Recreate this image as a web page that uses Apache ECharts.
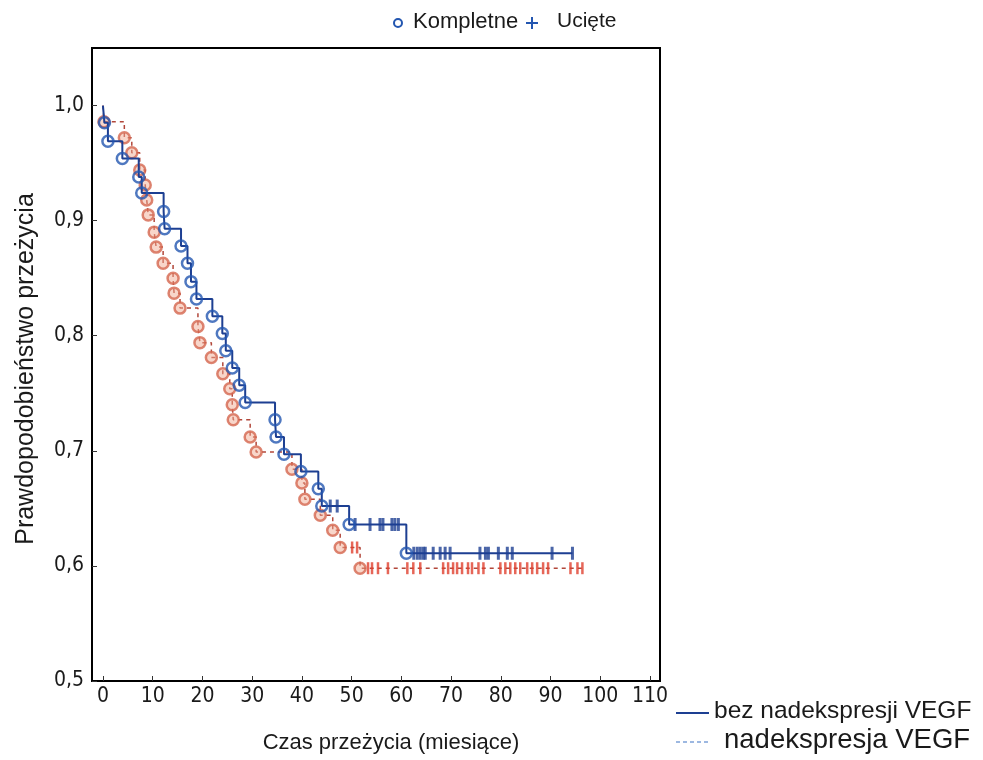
<!DOCTYPE html>
<html>
<head>
<meta charset="utf-8">
<script src="https://cdn.jsdelivr.net/npm/echarts@6/dist/echarts.min.js"></script>
<style>
  html, body { margin: 0; padding: 0; background: #ffffff; }
  #chart { width: 983px; height: 760px; }
</style>
</head>
<body>
<div id="chart"></div>
<script>
// ---- Data (time in months, survival probability) ----
const xTicks = [0, 10, 20, 30, 40, 50, 60, 70, 80, 90, 100, 110];
const yTicks = [0.5, 0.6, 0.7, 0.8, 0.9, 1.0];

// "bez nadekspresji VEGF" (solid, blue): complete events
const blueEventT = [0.3, 1.0, 3.9, 7.2, 7.8, 12.2, 12.4, 15.7, 17.0, 17.7, 18.8, 22.0, 24.0, 24.7, 26.0, 27.4, 28.6, 34.6, 34.8, 36.4, 39.8, 43.3, 44.0, 49.5, 61.0];
const blueEventS = [0.985, 0.969, 0.954, 0.938, 0.924, 0.908, 0.893, 0.878, 0.863, 0.847, 0.832, 0.817, 0.802, 0.787, 0.772, 0.757, 0.742, 0.727, 0.712, 0.697, 0.682, 0.667, 0.652, 0.636, 0.611];
// censored times
const blueCensT = [45.7, 47.1, 50.7, 53.7, 55.7, 56.3, 58.1, 58.7, 59.4, 62.5, 63.2, 63.8, 64.4, 64.8, 66.4, 67.8, 68.8, 69.8, 75.8, 76.9, 77.5, 79.5, 81.3, 82.3, 90.3, 94.4];

// "nadekspresja VEGF" (dashed, red): complete events
const redEventT = [0.2, 4.3, 5.8, 7.4, 8.5, 8.8, 9.1, 10.3, 10.7, 12.1, 14.1, 14.3, 15.5, 19.1, 19.5, 21.8, 24.1, 25.5, 26.0, 26.2, 29.6, 30.8, 38.0, 40.0, 40.6, 43.7, 46.2, 47.7, 51.7];
const redEventS = [0.986, 0.972, 0.959, 0.944, 0.931, 0.918, 0.905, 0.890, 0.877, 0.863, 0.850, 0.837, 0.824, 0.808, 0.794, 0.781, 0.767, 0.754, 0.740, 0.727, 0.712, 0.699, 0.684, 0.672, 0.658, 0.644, 0.631, 0.616, 0.598];
const redCensT = [50.1, 51.1, 53.3, 54.1, 55.3, 57.3, 61.2, 62.4, 63.8, 68.4, 69.4, 70.4, 71.2, 72.2, 73.4, 74.2, 75.5, 76.5, 79.9, 80.9, 81.9, 82.9, 83.9, 85.3, 86.3, 87.3, 88.5, 89.5, 94.0, 95.4, 96.4];

const groupNames = ['bez nadekspresji VEGF', 'nadekspresja VEGF'];
const markNames = ['Kompletne', 'Ucięte'];
const xTitle = 'Czas przeżycia (miesiące)';
const yTitle = 'Prawdopodobieństwo przeżycia';

// ---- helpers building library data from the arrays ----
function levelAt(ts, ss, t) {
  let s = 1;
  for (let i = 0; i < ts.length; i++) { if (ts[i] <= t) s = ss[i]; }
  return s;
}
function stepLine(ts, ss, cens) {
  const pts = [[0, 1]];
  for (let i = 0; i < ts.length; i++) pts.push([ts[i], ss[i]]);
  const last = cens[cens.length - 1];
  pts.push([last, levelAt(ts, ss, last)]);
  return pts;
}
function events(ts, ss) { return ts.map((t, i) => [t, ss[i]]); }
function censored(ts, ss, cens) { return cens.map(t => [t, levelAt(ts, ss, t)]); }

const FONT = "'Liberation Sans', Arial, sans-serif";
const NARROW = "'Liberation Sans Narrow', 'DejaVu Sans Condensed', 'Liberation Sans', sans-serif";

const chart = echarts.init(document.getElementById('chart'), null, { renderer: 'canvas' });

const option = {
  backgroundColor: '#ffffff',
  animation: false,
  grid: { left: 92, top: 48, width: 568, height: 633, show: true, borderColor: '#000', borderWidth: 2, backgroundColor: '#fff' },
  xAxis: {
    type: 'value', min: -2.2, max: 112,
    axisLine: { show: false, onZero: false },
    splitLine: { show: false },
    axisTick: { show: true, inside: true, length: 5, customValues: xTicks, lineStyle: { color: '#333', width: 1 } },
    axisLabel: { customValues: xTicks, margin: 5, fontFamily: NARROW, fontSize: 21, color: '#1a1a1a' }
  },
  yAxis: {
    type: 'value', min: 0.5, max: 1.05,
    axisLine: { show: false, onZero: false },
    splitLine: { show: false },
    axisTick: { show: true, inside: true, length: 5, customValues: yTicks, lineStyle: { color: '#333', width: 1 } },
    axisLabel: { customValues: yTicks, margin: 8, fontFamily: NARROW, fontSize: 21, color: '#1a1a1a',
      formatter: v => v.toFixed(1).replace('.', ',') }
  },
  series: [
    {
      name: groupNames[1], type: 'line', step: 'end', showSymbol: false, z: 2,
      data: stepLine(redEventT, redEventS, redCensT),
      lineStyle: { color: '#b2473a', width: 1.5, type: [4, 4] }
    },
    {
      name: groupNames[1] + ' ' + markNames[1], type: 'scatter', z: 3,
      symbol: 'rect', symbolSize: [2.5, 12],
      itemStyle: { color: '#e0402e' },
      data: censored(redEventT, redEventS, redCensT)
    },
    {
      name: groupNames[1] + ' ' + markNames[0], type: 'scatter', z: 4,
      symbol: 'circle', symbolSize: 11,
      itemStyle: { color: 'rgba(240,170,145,0.6)', borderColor: '#d4674f', borderWidth: 2.5 },
      data: events(redEventT, redEventS)
    },
    {
      name: groupNames[0], type: 'line', step: 'end', showSymbol: false, z: 5,
      data: stepLine(blueEventT, blueEventS, blueCensT),
      lineStyle: { color: '#1d3f92', width: 2 }
    },
    {
      name: groupNames[0] + ' ' + markNames[1], type: 'scatter', z: 6,
      symbol: 'rect', symbolSize: [3, 13],
      itemStyle: { color: '#1d3f92' },
      data: censored(blueEventT, blueEventS, blueCensT)
    },
    {
      name: groupNames[0] + ' ' + markNames[0], type: 'scatter', z: 7,
      symbol: 'circle', symbolSize: 11,
      itemStyle: { color: 'rgba(255,255,255,0)', borderColor: '#2356b0', borderWidth: 2.5 },
      data: events(blueEventT, blueEventS)
    }
  ],
  graphic: [
    // top legend
    { type: 'circle', shape: { cx: 398, cy: 23, r: 4 }, style: { fill: 'none', stroke: '#2356b0', lineWidth: 2 } },
    { type: 'text', left: 413, top: 11, style: { text: markNames[0], font: "22px " + FONT, fill: '#1a1a1a' } },
    { type: 'line', shape: { x1: 526, y1: 23, x2: 538, y2: 23 }, style: { stroke: '#2356b0', lineWidth: 2 } },
    { type: 'line', shape: { x1: 532, y1: 17, x2: 532, y2: 29 }, style: { stroke: '#2356b0', lineWidth: 2 } },
    { type: 'text', left: 557, top: 11, style: { text: markNames[1], font: "21px " + FONT, fill: '#1a1a1a' } },
    // axis titles
    { type: 'text', x: 391, y: 743, style: { text: xTitle, font: "22px " + FONT, fill: '#1a1a1a', align: 'center', verticalAlign: 'middle' } },
    { type: 'text', x: 26, y: 369, rotation: Math.PI / 2, style: { text: yTitle, font: "25px " + FONT, fill: '#1a1a1a', align: 'center', verticalAlign: 'middle' } },
    // bottom-right legend
    { type: 'line', shape: { x1: 676, y1: 713, x2: 709, y2: 713 }, style: { stroke: '#1d3f92', lineWidth: 2 } },
    { type: 'text', left: 714, top: 699, style: { text: groupNames[0], font: "24.5px " + FONT, fill: '#1a1a1a' } },
    { type: 'line', shape: { x1: 676, y1: 742, x2: 709, y2: 742 }, style: { stroke: '#3d72c4', lineWidth: 1.2, lineDash: [4, 3] } },
    { type: 'text', left: 724, top: 726, style: { text: groupNames[1], font: "27.5px " + FONT, fill: '#1a1a1a' } }
  ]
};
chart.setOption(option);
</script>
</body>
</html>
